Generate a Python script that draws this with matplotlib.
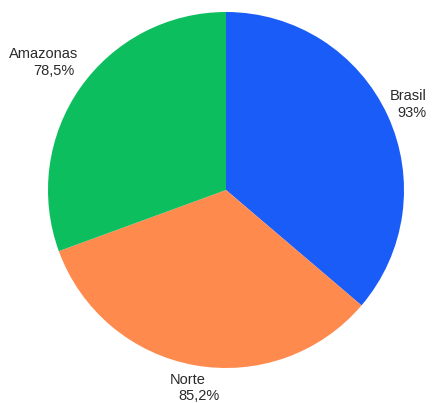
import matplotlib
matplotlib.use('Agg')
import matplotlib.pyplot as plt

# dados
categorias = ['Brasil', 'Norte', 'Amazonas']
valores = [93, 85.2, 78.5]
rotulos = ['93%', '85,2%', '78,5%']
cores = ['#1A5CF8', '#FF8A4E', '#0DBE5E']

plt.rcParams['font.family'] = ['Liberation Sans', 'DejaVu Sans']

fig = plt.figure(figsize=(4.34, 4.03), dpi=100)
ax = fig.add_axes([0, 0, 1, 1])

ax.pie(valores, colors=cores, startangle=90, counterclock=False,
       center=(226, 213), radius=178, wedgeprops=dict(linewidth=0))

# pie() mexe nos limites, entao define depois
ax.set_xlim(0, 434)
ax.set_ylim(0, 403)
ax.set_aspect('equal')
ax.axis('off')

# posicao dos rotulos em pixels (x, linha base nome, x, linha base valor, alinhamento)
pos = {
    'Brasil': (427, 100, 427, 117, 'right'),
    'Norte': (170, 384, 178, 400, 'left'),
    'Amazonas': (78, 58, 75, 75, 'right'),
}
for cat, rot in zip(categorias, rotulos):
    x1, y1, x2, y2, ha = pos[cat]
    ax.text(x1, 403 - y1, cat, ha=ha, va='baseline', fontsize=10.5, color='#2a2a2a')
    ax.text(x2, 403 - y2, rot, ha=ha, va='baseline', fontsize=10.5, color='#2a2a2a')

fig.savefig('out.png', dpi=100)
